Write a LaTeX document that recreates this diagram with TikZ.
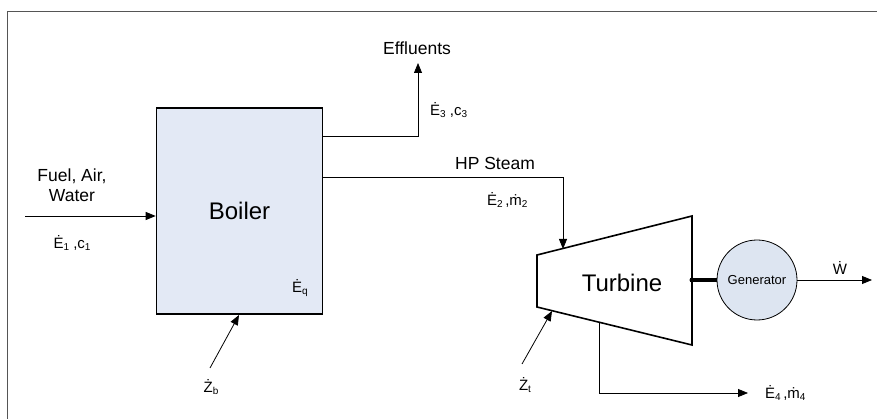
\documentclass[tikz,border=0pt]{standalone}
\usepackage{fontspec}
\setmainfont{Liberation Sans}
\usetikzlibrary{arrows.meta,calc}
\definecolor{boilfill}{HTML}{E3E9F5}
\definecolor{genfill}{HTML}{DDE5F1}
\definecolor{framecol}{HTML}{555555}
\newcommand{\lowix}[1]{\raisebox{-0.35ex}{\fontsize{10}{10}\selectfont #1}}
\begin{document}
\begin{tikzpicture}[x=1pt,y=-1pt,
  flow/.style={draw, line width=0.8pt, -{Triangle[length=10pt,width=8pt]}},
  lbl/.style={font=\fontsize{17.5}{20}\selectfont, inner sep=0pt, align=center},
  sym/.style={font=\fontsize{15}{18}\selectfont, inner sep=0pt},
  big/.style={font=\fontsize{24}{28}\selectfont, inner sep=0pt}]
\useasboundingbox (0,0) rectangle (877,419);
% frame
\coordinate (fA) at (7,419);
\coordinate (fB) at (7,12);
\coordinate (fC) at (877,12);
\draw[framecol, line width=1pt] (fA) -- (fB) -- (fC);
% boiler
\node[draw, line width=1.6pt, fill=boilfill, minimum width=166pt, minimum height=206pt, inner sep=0pt, font=\fontsize{24}{28}\selectfont] (boiler) at (239.5,211) {Boiler};
\node[sym] (Eq) at (300,288) {Ė\lowix{q}};
% turbine
\coordinate (tA) at (537,255);
\coordinate (tB) at (692,216);
\coordinate (tC) at (692,345);
\coordinate (tD) at (537,307);
\draw[line width=1.6pt, fill=white] (tA) -- (tB) -- (tC) -- (tD) -- cycle;
\node[big] (turb) at (622,283) {Turbine};
% generator
\node[circle, draw, line width=0.8pt, fill=genfill, minimum size=80pt, inner sep=0pt, font=\fontsize{13}{15}\selectfont] (gen) at (757,280) {Generator};
\coordinate (shaft) at (692,280);
\draw[line width=4pt] (shaft) -- (gen.west);
\fill (shaft) circle (2.5pt);
\coordinate (wend) at (872,280);
\draw[flow] (gen.east) -- (wend);
\node[sym] (W) at (840,268) {Ẇ};
% input
\coordinate (in0) at (25,216);
\draw[flow] (in0) -- (in0 -| boiler.west);
\node[lbl] (fuel) at (72,185) {Fuel, Air,\\Water};
\node[sym] (E1) at (72,243) {Ė\lowix{1} ,c\lowix{1}};
% effluents
\coordinate (h136) at (0,136);
\coordinate (efftip) at (418,63);
\draw[flow] (boiler.east |- h136) -| (efftip);
\node[lbl] (effl) at (417,48) {Effluents};
\node[sym, anchor=west] (E3) at (430,110) {Ė\lowix{3} ,c\lowix{3}};
% HP steam
\coordinate (hp) at (563,177);
\coordinate (hptip) at (563,249);
\draw[flow] (boiler.east |- hp) -| (hptip);
\node[lbl] (hps) at (495,163) {HP Steam};
\node[sym, anchor=west] (E2) at (487,200) {Ė\lowix{2}\,,ṁ\lowix{2}};
% exhaust
\coordinate (ex0) at ($(tD)!0.4!(tC)$);
\coordinate (ex1) at (748,393);
\draw[flow] (ex0) |- (ex1);
\node[sym, anchor=west] (E4) at (765,393) {Ė\lowix{4}\,,ṁ\lowix{4}};
% Z arrows
\coordinate (zb0) at (210,368);
\coordinate (zbtip) at (239,315);
\draw[flow] (zb0) -- (zbtip);
\node[sym] (Zb) at (211,387) {Ż\lowix{b}};
\coordinate (zt0) at (522,364);
\coordinate (zttip) at (552,311);
\draw[flow] (zt0) -- (zttip);
\node[sym] (Zt) at (525,385) {Ż\lowix{t}};
\end{tikzpicture}
\end{document}
